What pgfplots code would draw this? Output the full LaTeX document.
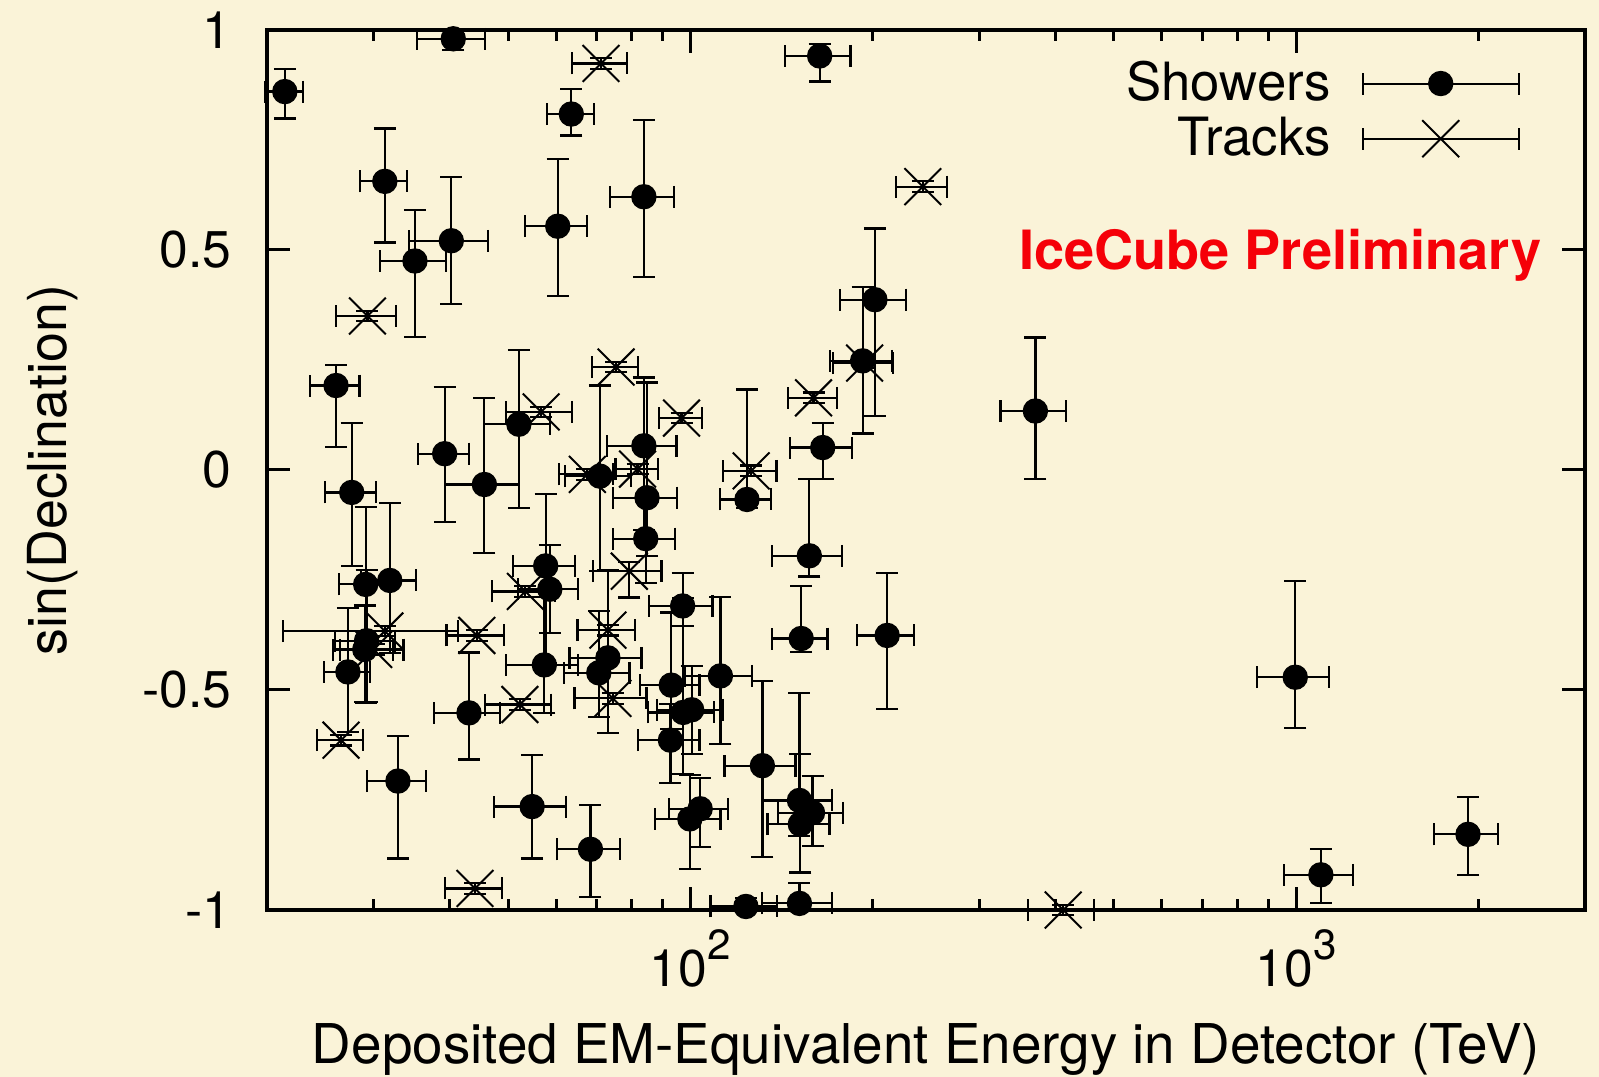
\documentclass[border=0pt]{standalone}
\usepackage{fontspec}
\setmainfont{TeX Gyre Heros}
\usepackage{pgfplots}
\usepackage{pgfplotstable}
\pgfplotsset{compat=1.18}

\definecolor{paper}{RGB}{250,243,216}
\definecolor{prelim}{RGB}{245,0,8}

% E = deposited energy (TeV), dec = sin(declination),
% rx = relative energy uncertainty, eyp/eym = declination uncertainty
\pgfplotstableread{
E      dec     rx     eyp    eym
21.4   0.860   0.072  0.051  0.061
40.6   0.980   0.128  0.020  0.025
163.5  0.941   0.124  0.027  0.058
63.6   0.809   0.089  0.056  0.049
31.3   0.656   0.089  0.120  0.139
83.8   0.621   0.120  0.174  0.183
60.4   0.554   0.117  0.153  0.158
40.3   0.521   0.148  0.144  0.144
35.1   0.475   0.124  0.115  0.172
201.7  0.387   0.124  0.162  0.264
192.5  0.248   0.117  0.167  0.165
371.3  0.134   0.124  0.167  0.155
26.0   0.192   0.093  0.046  0.139
39.3   0.037   0.097  0.151  0.155
52.1   0.104   0.124  0.169  0.190
45.7  -0.033   0.140  0.197  0.155
27.6  -0.051   0.097  0.157  0.167
83.8   0.055   0.132  0.155  0.192
165.4  0.051   0.117  0.056  0.072
70.9  -0.014   0.124  0.206  0.216
84.8  -0.063   0.120  0.262  0.132
124.0 -0.067   0.097  0.250  0.020
84.4  -0.156   0.117  0.100  0.100
157.2 -0.195   0.132  0.174  0.047
57.7  -0.218   0.117  0.163  0.220
58.6  -0.271   0.113  0.100  0.100
29.1  -0.260   0.097  0.176  0.269
31.9  -0.251   0.105  0.176  0.165
29.2  -0.388   0.113  0.160  0.140
29.0  -0.408   0.113  0.100  0.120
27.2  -0.459   0.088  0.146  0.137
97.1  -0.309   0.120  0.075  0.045
152.4 -0.383   0.105  0.120  0.030
211.3 -0.376   0.109  0.141  0.167
57.4  -0.443   0.136  0.155  0.110
73.1  -0.427   0.136  0.200  0.170
70.6  -0.461   0.124  0.140  0.100
112.1 -0.468   0.126  0.180  0.155
93.0  -0.489   0.113  0.165  0.100
97.3  -0.551   0.124  0.260  0.140
100.5 -0.545   0.124  0.100  0.100
43.1  -0.552   0.124  0.137  0.106
92.7  -0.614   0.117  0.083  0.097
32.9  -0.707   0.111  0.102  0.176
131.5 -0.672   0.134  0.192  0.207
54.8  -0.765   0.136  0.118  0.118
103.8 -0.770   0.113  0.070  0.086
99.8  -0.793   0.124  0.100  0.113
151.4 -0.751   0.132  0.244  0.080
159.1 -0.779   0.122  0.083  0.076
151.9 -0.805   0.117  0.160  0.110
68.4  -0.862   0.120  0.100  0.109
123.5 -0.992   0.126  0.020  0.008
151.4 -0.985   0.132  0.046  0.015
997   -0.471   0.136  0.218  0.116
1099  -0.920   0.130  0.058  0.065
1923  -0.828   0.122  0.084  0.092
}\showers

\pgfplotstableread{
E      dec     rx     eyp    eym
71.2   0.924   0.105  0.012  0.012
242    0.644   0.097  0.012  0.012
29.3   0.350   0.113  0.012  0.012
75.4   0.234   0.086  0.012  0.012
194    0.243   0.113  0.012  0.012
159.7  0.164   0.093  0.012  0.012
56.7   0.132   0.124  0.012  0.012
96.7   0.118   0.082  0.012  0.012
126   -0.002   0.101  0.012  0.012
67.6  -0.010   0.101  0.012  0.012
81.8   0.002   0.080  0.012  0.012
79.3  -0.230   0.130  0.020  0.060
53.4  -0.276   0.118  0.012  0.012
31.3  -0.366   0.320  0.012  0.012
44.4  -0.376   0.109  0.012  0.012
73.1  -0.364   0.109  0.012  0.012
30.0  -0.408   0.120  0.012  0.012
52.3  -0.533   0.124  0.012  0.012
74.5  -0.519   0.136  0.012  0.012
26.5  -0.614   0.088  0.012  0.012
44.1  -0.951   0.107  0.012  0.012
412.6 -1.000   0.124  0.012  0.012
}\tracks

\begin{document}
\begin{tikzpicture}
  \fill[paper] (0,0) rectangle (15.99cm,10.77cm);
  \useasboundingbox (0,0) rectangle (15.99cm,10.77cm);
  \begin{axis}[
    scale only axis,
    width=13.18cm, height=8.80cm,
    at={(2.67cm,1.67cm)}, anchor=south west,
    xmode=log, xmin=20, xmax=3000,
    ymin=-1, ymax=1,
    clip=false,
    axis line style={line width=0.04cm, black},
    tick style={line width=0.03cm, black},
    major tick length=0.23cm,
    minor tick length=0.11cm,
    tick align=inside,
    xtick pos=both, ytick pos=both,
    xtick={100,1000},
    xticklabels={10\raisebox{0.27cm}{\fontsize{12}{12}\selectfont 2},
                 10\raisebox{0.27cm}{\fontsize{12}{12}\selectfont 3}},
    minor xtick={30,40,50,60,70,80,90,200,300,400,500,600,700,800,900,2000},
    ytick={-1,-0.5,0,0.5,1},
    yticklabels={-1,-0.5,0,0.5,1},
    ticklabel style={font=\fontsize{14.7}{16}\selectfont},
    xticklabel style={anchor=base, yshift=-0.77cm},
    yticklabel style={anchor=east, inner sep=0pt, xshift=-0.35cm},
    xlabel={Deposited EM-Equivalent Energy in Detector (TeV)},
    ylabel={sin(Declination)},
    xlabel style={font=\fontsize{15.6}{18}\selectfont,
      at={(axis description cs:0.5,0)}, anchor=base, yshift=-1.54cm},
    ylabel style={font=\fontsize{15.3}{18}\selectfont,
      at={(axis description cs:-0.1624,0.5)}, anchor=center},
    legend plot pos=right,
    legend cell align=right,
    legend style={draw=none, fill=none,
      at={(rel axis cs:0.959,0.979)}, anchor=north east,
      font=\fontsize{15}{18}\selectfont,
      column sep=0.26cm, row sep=0.01cm,
      nodes={inner sep=0.05cm}},
  ]

    % cascade-like events
    \addplot[only marks, black, mark=*, mark size=0.12cm,
      mark options={fill=black, draw=black},
      legend image code/.code={
        \draw[black, line width=0.02cm] (0cm,0cm) -- (1.56cm,0cm);
        \draw[black, line width=0.02cm] (0cm,-0.11cm) -- (0cm,0.11cm);
        \draw[black, line width=0.02cm] (1.56cm,-0.11cm) -- (1.56cm,0.11cm);
        \fill[black] (0.78cm,0cm) circle (0.12cm);
      },
      error bars/.cd,
        x dir=both, x explicit relative,
        y dir=both, y explicit,
        error bar style={line width=0.022cm, black},
        error mark options={rotate=90, mark size=0.11cm, line width=0.022cm, black},
    ] table[x=E, y=dec, x error=rx, y error plus=eyp, y error minus=eym] {\showers};
    \addlegendentry{Showers}

    % track-like events
    \addplot[only marks, black, mark=x, mark size=0.26cm,
      mark options={line width=0.02cm, draw=black},
      legend image code/.code={
        \draw[black, line width=0.02cm] (0cm,0cm) -- (1.56cm,0cm);
        \draw[black, line width=0.02cm] (0cm,-0.11cm) -- (0cm,0.11cm);
        \draw[black, line width=0.02cm] (1.56cm,-0.11cm) -- (1.56cm,0.11cm);
        \draw[black, line width=0.02cm] (0.595cm,-0.185cm) -- (0.965cm,0.185cm);
        \draw[black, line width=0.02cm] (0.595cm,0.185cm) -- (0.965cm,-0.185cm);
      },
      error bars/.cd,
        x dir=both, x explicit relative,
        y dir=both, y explicit,
        error bar style={line width=0.022cm, black},
        error mark options={rotate=90, mark size=0.11cm, line width=0.022cm, black},
    ] table[x=E, y=dec, x error=rx, y error plus=eyp, y error minus=eym] {\tracks};
    \addlegendentry{Tracks}

    \node[anchor=base east, inner sep=0pt, text=prelim,
      font=\bfseries\fontsize{15.4}{18}\selectfont]
      at (rel axis cs:0.9674,0.7284) {IceCube Preliminary};
  \end{axis}
\end{tikzpicture}
\end{document}
